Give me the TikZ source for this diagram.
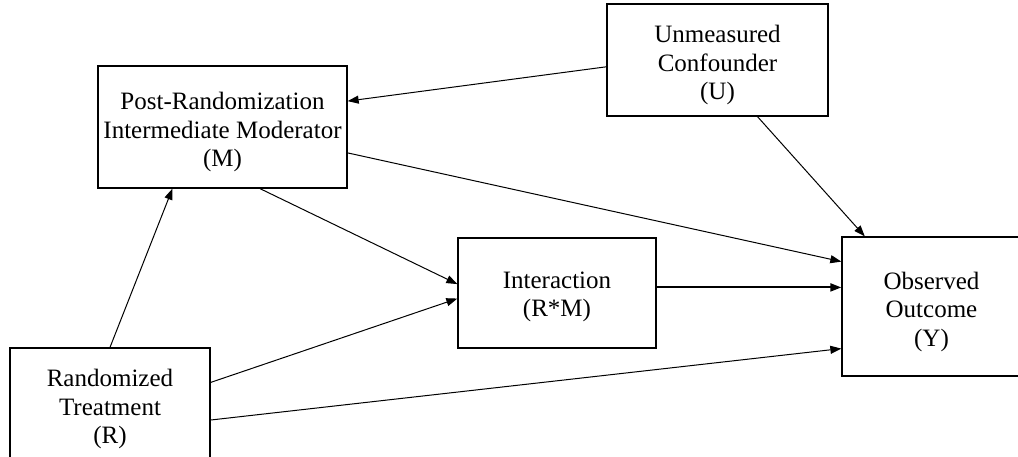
\documentclass[tikz,border=0pt]{standalone}
\usepackage{fontspec}
\setmainfont{Liberation Serif}
\usetikzlibrary{arrows.meta,calc,positioning}

\begin{document}
\begin{tikzpicture}[x=1pt,y=-1pt,
  box/.style={draw=black,line width=1.3pt,inner sep=0pt},
  txt/.style={align=center,inner sep=0pt,font=\fontsize{25}{28.5}\selectfont},
  link/.style={-{Triangle[length=11pt,width=8pt]},line width=1pt},
  >=Stealth]
\useasboundingbox (0,0) rectangle (1018,457);
% Kästen
\node[box,minimum width=249pt,minimum height=122pt] (M) at (222.5,127) {};
\node[box,minimum width=221pt,minimum height=112pt] (U) at (717.5,60) {};
\node[box,minimum width=198pt,minimum height=110pt] (I) at (557,293) {};
\node[box,minimum width=179pt,minimum height=139pt] (Y) at (931.5,306.5) {};
\node[box,minimum width=200pt,minimum height=124pt] (R) at (110,410) {};
% Beschriftungen
\node[txt] (Mt) at ([yshift=-5pt]M.center) {Post-Randomization\\Intermediate Moderator\\(M)};
\node[txt] (Ut) at ([yshift=-5pt]U.center) {Unmeasured\\Confounder\\(U)};
\node[txt] (It) at ([yshift=-4pt]I.center) {Interaction\\(R*M)};
\node[txt] (Yt) at ([yshift=-5pt]Y.center) {Observed\\Outcome\\(Y)};
\node[txt] (Rt) at ([yshift=1pt]R.center) {Randomized\\Treatment\\(R)};
% Pfeile
\draw[link] ($(U.north west)!0.56!(U.south west)$) -- ($(M.north east)!0.29!(M.south east)$);
\draw[link] ($(U.south west)!0.68!(U.south east)$) -- ($(Y.north west)!0.13!(Y.north east)$);
\draw[link] ($(M.north east)!0.71!(M.south east)$) -- ($(Y.north west)!0.18!(Y.south west)$);
\draw[link] ($(M.south west)!0.65!(M.south east)$) -- ($(I.north west)!0.42!(I.south west)$);
\draw[link] (R.north) -- ($(M.south west)!0.30!(M.south east)$);
\draw[link] ($(R.north east)!0.28!(R.south east)$) -- ($(I.north west)!0.55!(I.south west)$);
\draw[link] ($(R.north east)!0.58!(R.south east)$) -- ($(Y.north west)!0.80!(Y.south west)$);
% Interaktion -> Ergebnis (dicker)
\coordinate (ie) at ($(I.north east)!0.45!(I.south east)$);
\draw[link,line width=2pt] (ie) -- (ie -| Y.west);
\end{tikzpicture}
\end{document}
